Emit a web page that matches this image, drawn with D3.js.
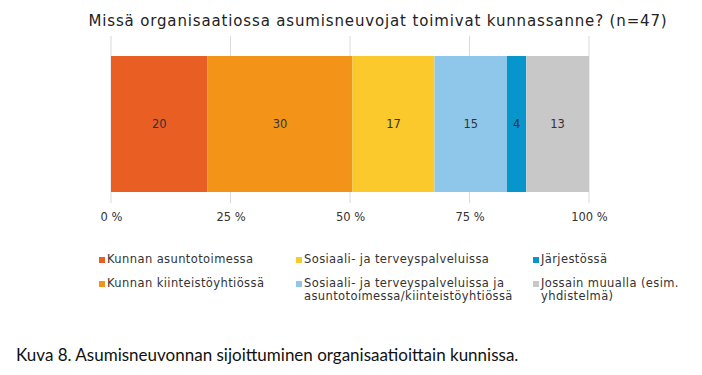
<!DOCTYPE html>
<html>
<head>
<meta charset="utf-8">
<script src="https://cdn.jsdelivr.net/npm/d3@7"></script>
<style>
  body { margin: 0; background: #fff; }
  svg { display: block; }
</style>
</head>
<body>
<div id="chart"></div>
<script>
// data (shown values are rounded percentages, the bar is stacked to 100 %)
var categories = ["Kunnan asuntotoimessa", "Kunnan kiinteistöyhtiössä", "Sosiaali- ja terveyspalveluissa",
    "Sosiaali- ja terveyspalveluissa ja asuntotoimessa/kiinteistöyhtiössä", "Järjestössä",
    "Jossain muualla (esim. yhdistelmä)"];
var values = [20, 30, 17, 15, 4, 13];
var colors = ["#E95E23", "#F39418", "#FBC92B", "#8FC7EA", "#0696CB", "#C8C8C8"];
var ticks = [0, 25, 50, 75, 100];
var n = 47;

var width = 702,
    height = 375;

var svg = d3.select("#chart")
    .append("svg")
    .attr("width", width)
    .attr("height", height);

var x = d3.scaleLinear()
    .domain([0, 100])
    .range([111, 589]);

var barTop = 56,
    barBottom = 192;

// title
svg.append("text")
    .attr("x", 378)
    .attr("y", 26)
    .attr("text-anchor", "middle")
    .attr("font-family", "DejaVu Sans, Verdana")
    .attr("font-size", "15px")
    .attr("letter-spacing", "0.85px")
    .attr("fill", "#222")
    .text("Missä organisaatiossa asumisneuvojat toimivat kunnassanne? (n=" + n + ")");

// gridlines
svg.append("g")
    .selectAll("line")
    .data(ticks)
    .enter()
    .append("line")
    .attr("x1", d => x(d))
    .attr("x2", d => x(d))
    .attr("y1", 36)
    .attr("y2", 203)
    .attr("stroke", "#d9d9d9")
    .attr("stroke-width", 1);

// stacked segments, expanded to 100 %
var row = {};
categories.forEach((c, i) => row[c] = values[i]);
var series = d3.stack()
    .keys(categories)
    .offset(d3.stackOffsetExpand)([row]);

var seg = svg.append("g")
    .selectAll("g")
    .data(series)
    .enter()
    .append("g");

seg.append("rect")
    .attr("x", d => x(d[0][0] * 100))
    .attr("y", barTop)
    .attr("width", d => x(d[0][1] * 100) - x(d[0][0] * 100))
    .attr("height", barBottom - barTop)
    .attr("fill", (d, i) => colors[i]);

seg.append("text")
    .attr("x", d => (x(d[0][0] * 100) + x(d[0][1] * 100)) / 2)
    .attr("y", (barTop + barBottom) / 2)
    .attr("text-anchor", "middle")
    .attr("dominant-baseline", "central")
    .attr("font-family", "DejaVu Sans, Verdana")
    .attr("font-size", "11.5px")
    .attr("fill", "#333")
    .text((d, i) => values[i]);

// axis labels
var xAxis = d3.axisBottom(x)
    .tickValues(ticks)
    .tickSize(0)
    .tickPadding(0)
    .tickFormat(d => d + " %");

var axisG = svg.append("g")
    .attr("transform", "translate(0,213)")
    .call(xAxis);
axisG.select(".domain").remove();
axisG.selectAll("text")
    .attr("font-family", "DejaVu Sans, Verdana")
    .attr("font-size", "11.5px")
    .attr("fill", "#333");

// legend
var legendPos = [
    [99, 263], [99, 287], [296, 263], [296, 287], [533, 263], [533, 287]
];
var legendLines = [
    ["Kunnan asuntotoimessa"],
    ["Kunnan kiinteistöyhtiössä"],
    ["Sosiaali- ja terveyspalveluissa"],
    ["Sosiaali- ja terveyspalveluissa ja", "asuntotoimessa/kiinteistöyhtiössä"],
    ["Järjestössä"],
    ["Jossain muualla (esim.", "yhdistelmä)"]
];

var legend = svg.append("g")
    .selectAll("g")
    .data(categories)
    .enter()
    .append("g")
    .attr("transform", (d, i) => "translate(" + legendPos[i][0] + "," + legendPos[i][1] + ")");

legend.append("rect")
    .attr("x", 0)
    .attr("y", -6)
    .attr("width", 6)
    .attr("height", 6)
    .attr("fill", (d, i) => colors[i]);

legend.append("text")
    .attr("font-family", "DejaVu Sans, Verdana")
    .attr("font-size", "11.5px")
    .attr("letter-spacing", "0.4px")
    .attr("fill", "#333")
    .each(function (d, i) {
        var t = d3.select(this);
        legendLines[i].forEach(function (line, j) {
            t.append("tspan")
                .attr("x", 8)
                .attr("y", j * 13)
                .text(line);
        });
    });

// caption
svg.append("text")
    .attr("x", 16)
    .attr("y", 361)
    .attr("font-family", "Lato, sans-serif")
    .attr("font-size", "17px")
    .attr("fill", "#111")
    .text("Kuva 8. Asumisneuvonnan sijoittuminen organisaatioittain kunnissa.");
</script>
</body>
</html>
